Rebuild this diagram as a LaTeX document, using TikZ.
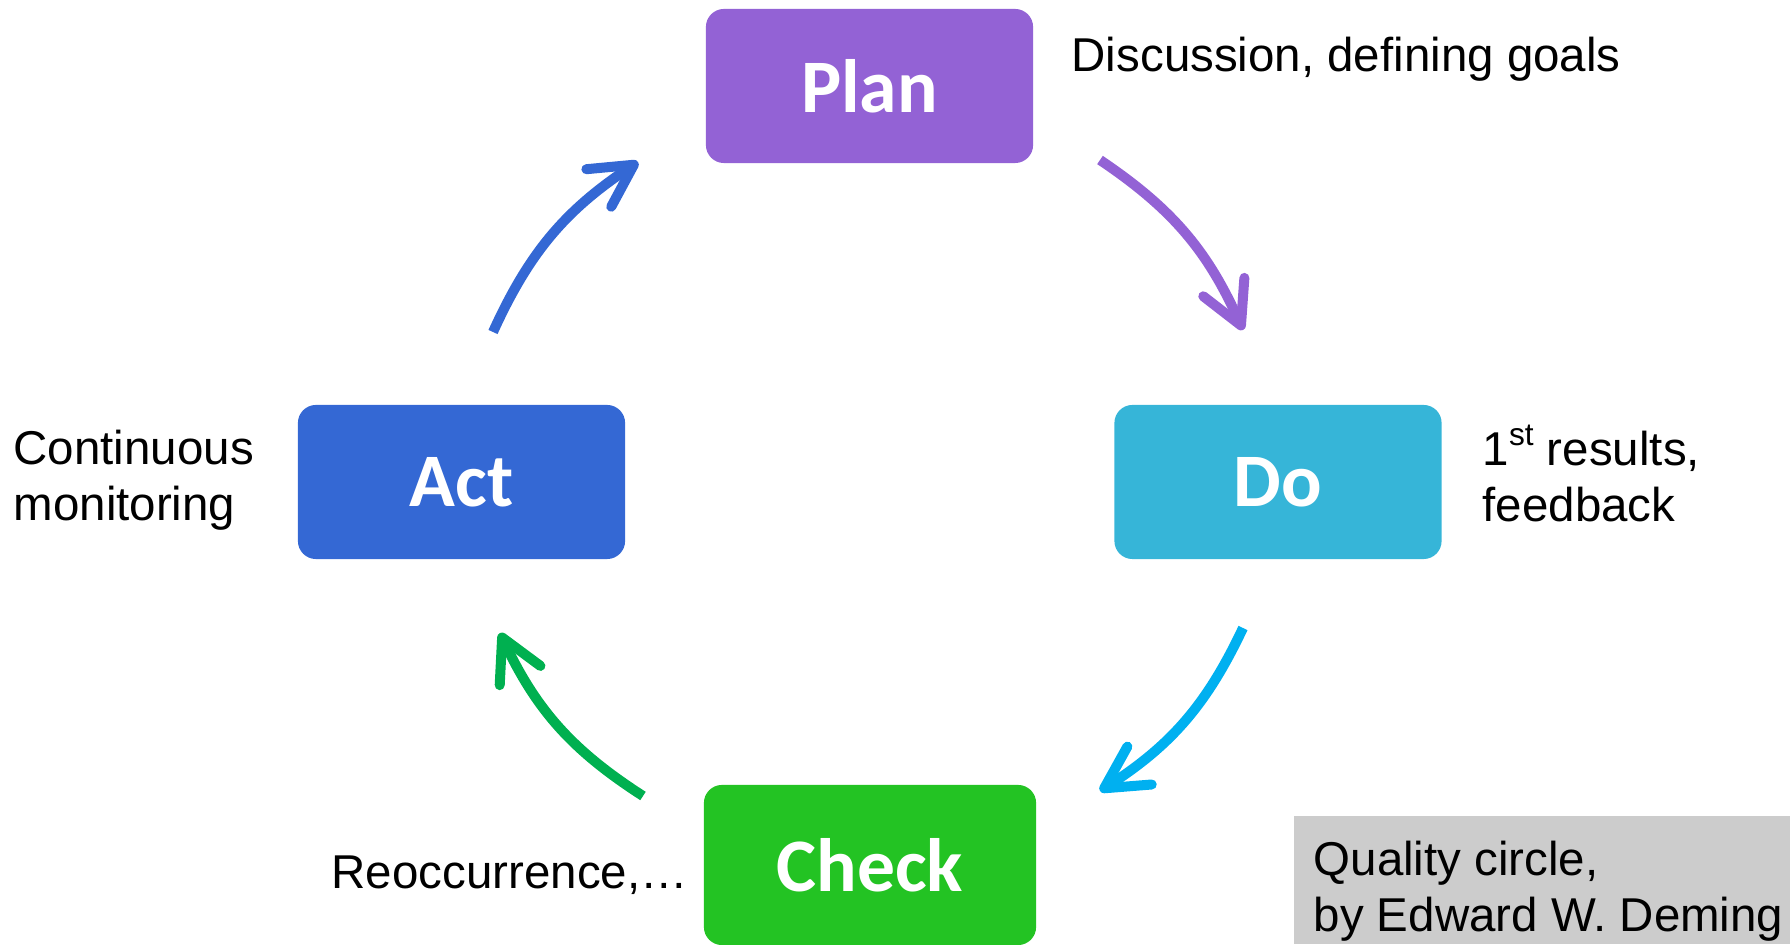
\documentclass[tikz,border=0pt]{standalone}
\usepackage{fontspec}
\setmainfont{Liberation Sans}
\newfontfamily\boxfont{Carlito}
\usetikzlibrary{arrows.meta,calc}
\definecolor{planc}{HTML}{9362D5}
\definecolor{doc}{HTML}{36B5D8}
\definecolor{actc}{HTML}{3468D4}
\definecolor{checkc}{HTML}{23C323}
\definecolor{cyanarr}{HTML}{00B0F0}
\definecolor{greenarr}{HTML}{00B050}
\definecolor{grayc}{HTML}{CCCCCC}
\newcommand{\mysup}[1]{\raisebox{0.42em}{\fontsize{9}{9}\selectfont #1}}
\begin{document}
\begin{tikzpicture}[x=0.01cm,y=0.01cm,
  box/.style={rounded corners=0.18cm, minimum width=3.27cm, minimum height=1.54cm, inner sep=0pt, text=white, font=\boxfont\bfseries\fontsize{21.5}{25}\selectfont},
  lbl/.style={inner sep=0pt, anchor=base west, align=left, font=\fontsize{13.5}{16.2}\selectfont},
  cyc/.style={line width=0.1cm, -{Straight Barb[length=0.42cm, width=0.45cm, line cap=round, line join=round]}},
]
\useasboundingbox (0,0) rectangle (1790,945);
% boxes
\node[box, fill=planc] (plan) at (869.5,859) {Plan};
\node[box, fill=doc] (do) at (1278,463) {Do};
\node[box, fill=actc] (act) at (461.5,463) {Act};
\node[box, fill=checkc, minimum width=3.32cm, minimum height=1.60cm] (check) at (870,80) {Check};
\node[fill=grayc, inner sep=0pt, minimum width=4.97cm, minimum height=1.28cm, anchor=south west] (qcbox) at (1293,0) {};
% labels
\node[lbl] (lplan) at (1071,873) {Discussion, defining goals};
\node[lbl] (ldo) at (1482,423) {1\mysup{st} results,\\feedback};
\node[lbl] (lact) at (13,424) {Continuous\\monitoring};
\node[lbl] (lcheck) at (331,56) {Reoccurrence,…};
\node[lbl] (lqc) at (1313,13) {Quality circle,\\by Edward W. Deming};
% arrows
\coordinate (a1s) at (1100,785);
\coordinate (a1e) at (1243,615);
\coordinate (a2s) at (1243,317);
\coordinate (a2e) at (1100,154);
\coordinate (a3s) at (643,149);
\coordinate (a3e) at (500,312);
\coordinate (a4s) at (493,613);
\coordinate (a4e) at (638,783);
\draw[cyc, planc] (a1s) to[bend left=16] (a1e);
\draw[cyc, cyanarr] (a2s) to[bend left=16] (a2e);
\draw[cyc, greenarr] (a3s) to[bend left=16] (a3e);
\draw[cyc, actc] (a4s) to[bend left=16] (a4e);
\end{tikzpicture}
\end{document}
